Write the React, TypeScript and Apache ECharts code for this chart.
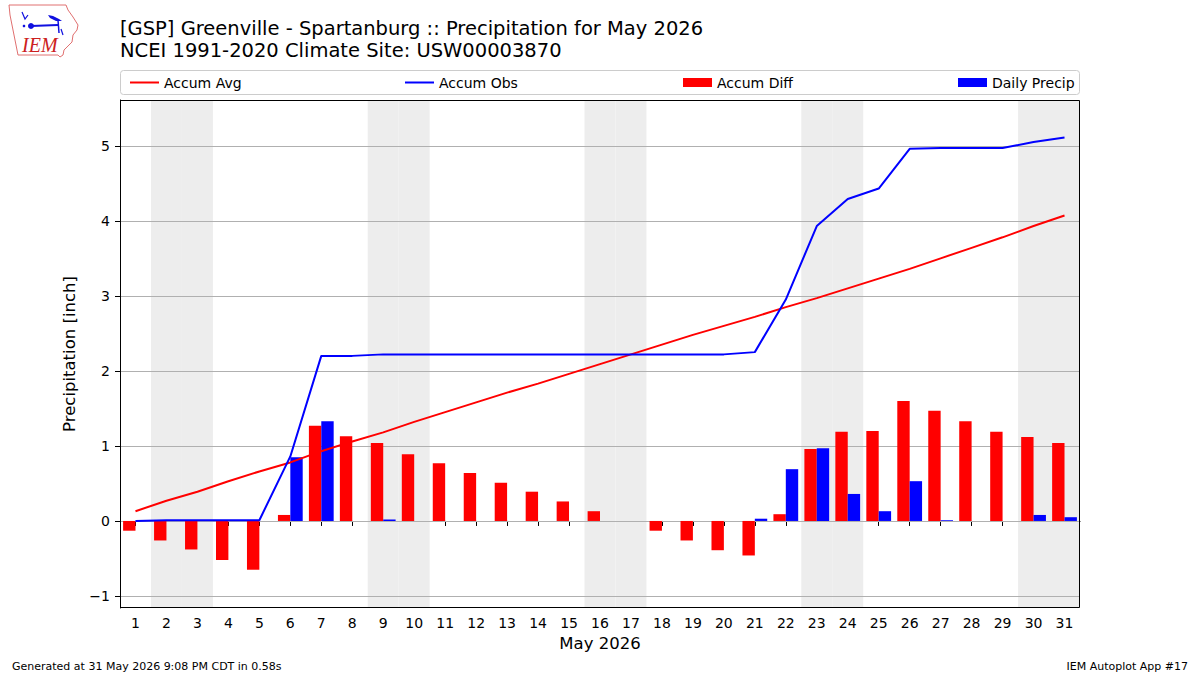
import React, { useEffect, useRef } from 'react';
import * as echarts from 'echarts';

const dayLabels = ['1','2','3','4','5','6','7','8','9','10','11','12','13','14','15','16','17','18','19','20','21','22','23','24','25','26','27','28','29','30','31'];
const accumAvg = [0.13,0.27,0.39,0.53,0.66,0.78,0.93,1.06,1.18,1.32,1.45,1.58,1.71,1.83,1.96,2.09,2.22,2.35,2.48,2.60,2.72,2.85,2.97,3.10,3.23,3.36,3.50,3.64,3.78,3.93,4.07];
const accumObs = [0.00,0.01,0.01,0.01,0.01,0.86,2.20,2.20,2.22,2.22,2.22,2.22,2.22,2.22,2.22,2.22,2.22,2.22,2.22,2.22,2.25,2.95,3.93,4.29,4.43,4.96,4.97,4.97,4.97,5.05,5.11];
const accumDiff = [-0.13,-0.26,-0.38,-0.52,-0.65,0.08,1.27,1.13,1.04,0.89,0.77,0.64,0.51,0.39,0.26,0.13,0.00,-0.13,-0.26,-0.39,-0.46,0.09,0.96,1.19,1.20,1.60,1.47,1.33,1.19,1.12,1.04];
const dailyPrecip = [0,0,0,0,0,0.85,1.33,0,0.02,0,0,0,0,0,0,0,0,0,0,0,0.03,0.69,0.97,0.36,0.13,0.53,0.01,0,0,0.08,0.05];
const weekendDays = ['2','3','9','10','16','17','23','24','30','31'];
const yTicks = [-1,0,1,2,3,4,5];

const FONT = "'DejaVu Sans', sans-serif";

export default function App() {
  const ref = useRef<HTMLDivElement>(null);
  useEffect(() => {
    if (!ref.current) return;
    const chart = echarts.init(ref.current, null, { renderer: 'svg' });
    const legendBase = {
      top: 70.5,
      itemGap: 0,
      textStyle: { fontSize: 14, fontFamily: FONT, color: '#000' },
      selectedMode: false,
    };
    const option: any = {
      animation: false,
      backgroundColor: '#fff',
      textStyle: { fontFamily: FONT },
      grid: { left: 120, top: 100, width: 960, height: 508, show: false, containLabel: false },
      legend: [
        { ...legendBase, left: 125, data: [{ name: 'Accum Avg', icon: 'rect' }], itemWidth: 29, itemHeight: 2 },
        { ...legendBase, left: 400, data: [{ name: 'Accum Obs', icon: 'rect' }], itemWidth: 29, itemHeight: 2 },
        { ...legendBase, left: 678, data: [{ name: 'Accum Diff', icon: 'rect' }], itemWidth: 29, itemHeight: 9 },
        { ...legendBase, left: 953, data: [{ name: 'Daily Precip', icon: 'rect' }], itemWidth: 29, itemHeight: 9 },
      ],
      xAxis: {
        type: 'category',
        data: dayLabels,
        boundaryGap: true,
        name: 'May 2026',
        nameLocation: 'middle',
        nameGap: 27,
        nameTextStyle: { fontSize: 16.5, fontFamily: FONT, color: '#000' },
        axisLine: { show: true, lineStyle: { color: '#000', width: 1 } },
        axisTick: { show: true, alignWithLabel: true, interval: 0, length: 5, lineStyle: { color: '#000' } },
        axisLabel: { interval: 0, margin: 8, fontSize: 14, fontFamily: FONT, color: '#000' },
        splitLine: { show: false },
      },
      yAxis: {
        type: 'value',
        min: -1.16,
        max: 5.61,
        name: 'Precipitation [inch]',
        nameLocation: 'middle',
        nameGap: 38,
        nameTextStyle: { fontSize: 16.5, fontFamily: FONT, color: '#000' },
        axisLine: { show: true, lineStyle: { color: '#000', width: 1 } },
        axisTick: { show: true, length: 5, customValues: yTicks, lineStyle: { color: '#000' } },
        axisLabel: {
          customValues: yTicks,
          margin: 10,
          fontSize: 14,
          fontFamily: FONT,
          color: '#000',
          formatter: (v: number) => String(Math.round(v)).replace('-', '\u2212'),
        },
        splitLine: { show: false },
      },
      series: [
        {
          type: 'custom',
          name: 'weekend',
          z: 1,
          silent: true,
          data: weekendDays.map((d) => [d, 0]),
          renderItem: (params: any, api: any) => {
            const c = api.coord([api.value(0), 0]);
            const w = api.size([1, 0])[0];
            const cs = params.coordSys;
            return {
              type: 'rect',
              shape: { x: c[0] - w / 2, y: cs.y, width: w, height: cs.height },
              style: { fill: '#ededed' },
            };
          },
        },
        {
          type: 'custom',
          name: 'gridlines',
          z: 2,
          silent: true,
          data: yTicks.map((v) => ['1', v]),
          renderItem: (params: any, api: any) => {
            const c = api.coord([api.value(0), api.value(1)]);
            const cs = params.coordSys;
            const y = Math.round(c[1]) + 0.5;
            return {
              type: 'line',
              shape: { x1: cs.x, y1: y, x2: cs.x + cs.width, y2: y },
              style: { stroke: '#b0b0b0', lineWidth: 1 },
            };
          },
        },
        {
          type: 'bar',
          name: 'Accum Diff',
          z: 3,
          color: '#ff0000',
          barWidth: '40%',
          barGap: '0%',
          data: accumDiff,
        },
        {
          type: 'bar',
          name: 'Daily Precip',
          z: 3,
          color: '#0000ff',
          barWidth: '40%',
          barGap: '0%',
          data: dailyPrecip,
        },
        {
          type: 'line',
          name: 'Accum Avg',
          z: 4,
          color: '#ff0000',
          symbol: 'none',
          lineStyle: { width: 2, color: '#ff0000' },
          data: accumAvg,
        },
        {
          type: 'line',
          name: 'Accum Obs',
          z: 4,
          color: '#0000ff',
          symbol: 'none',
          lineStyle: { width: 2, color: '#0000ff' },
          data: accumObs,
        },
      ],
      graphic: [
        {
          type: 'rect',
          z: 100,
          silent: true,
          shape: { x: 120.5, y: 100.5, width: 959, height: 507 },
          style: { fill: 'none', stroke: '#000', lineWidth: 1 },
        },
        {
          type: 'rect',
          z: -1,
          silent: true,
          shape: { x: 120.5, y: 70.5, width: 959, height: 24, r: 3 },
          style: { fill: '#fff', stroke: '#cccccc', lineWidth: 1 },
        },
        {
          type: 'text',
          left: 120,
          top: 17,
          style: {
            text: '[GSP] Greenville - Spartanburg :: Precipitation for May 2026\nNCEI 1991-2020 Climate Site: USW00003870',
            font: `19.5px ${FONT}`,
            fill: '#000',
            lineHeight: 22,
          },
        },
        {
          type: 'text',
          left: 12,
          top: 661,
          style: { text: 'Generated at 31 May 2026 9:08 PM CDT in 0.58s', font: `11px ${FONT}`, fill: '#000' },
        },
        {
          type: 'text',
          right: 12,
          top: 661,
          style: { text: 'IEM Autoplot App #17', font: `11px ${FONT}`, fill: '#000', textAlign: 'right' },
        },
        {
          type: 'group',
          silent: true,
          children: [
            {
              type: 'polygon',
              shape: {
                points: [[9, 5], [66, 5], [68, 10], [73, 17], [78, 25], [77, 30], [73, 35], [72, 42], [68, 46], [64, 50], [63, 55], [60, 57], [58, 55], [18, 55], [16, 45], [14, 35], [12, 25], [10, 15]],
              },
              style: { fill: 'none', stroke: '#e07070', lineWidth: 1 },
            },
            {
              type: 'polyline',
              shape: { points: [[31, 26], [58, 25]] },
              style: { stroke: '#1010e0', lineWidth: 2, fill: 'none' },
            },
            { type: 'circle', shape: { cx: 31, cy: 26, r: 3 }, style: { fill: '#1010e0' } },
            {
              type: 'polyline',
              shape: { points: [[22, 12], [25, 19], [28, 15]] },
              style: { stroke: '#1010e0', lineWidth: 1.2, fill: 'none' },
            },
            {
              type: 'polygon',
              shape: { points: [[48, 15], [53, 16], [59, 19], [62, 21], [56, 21], [50, 18]] },
              style: { fill: '#1010e0' },
            },
            {
              type: 'polyline',
              shape: { points: [[58, 20], [59, 33]] },
              style: { stroke: '#1010e0', lineWidth: 1.5, fill: 'none' },
            },
            {
              type: 'polyline',
              shape: { points: [[61, 29], [63, 35]] },
              style: { stroke: '#1010e0', lineWidth: 1.2, fill: 'none' },
            },
            { type: 'circle', shape: { cx: 24, cy: 26, r: 1.3 }, style: { fill: '#1010e0' } },
            {
              type: 'text',
              x: 22,
              y: 35,
              style: { text: 'IEM', font: `italic 20px 'Liberation Serif', serif`, fill: '#cc2020' },
            },
          ],
        },
      ],
    };
    chart.setOption(option);
    return () => chart.dispose();
  }, []);
  return <div ref={ref} style={{ position: 'fixed', left: 0, top: 0, width: 1200, height: 675 }} />;
}
